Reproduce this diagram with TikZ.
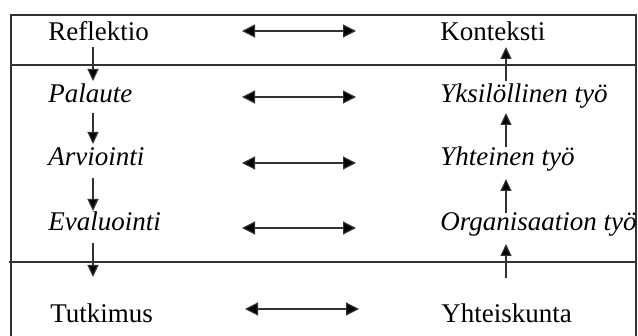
\documentclass[tikz,border=0pt]{standalone}
\usepackage{fontspec}
\setmainfont{Liberation Serif}
\usetikzlibrary{arrows.meta}
\begin{document}
\begin{tikzpicture}[x=0.5pt,y=-0.5pt,
  label/.style={anchor=base west,inner sep=0pt,font=\fontsize{13.5}{16}\selectfont},
  frameline/.style={draw=black!80,line width=0.75pt},
  harrow/.style={draw=black!80,line width=0.6pt,{Triangle[length=6.5pt,width=6.5pt,fill=black]}-{Triangle[length=6.5pt,width=6.5pt,fill=black]}},
  varrow/.style={draw=black!80,line width=0.6pt,-{Triangle[length=6pt,width=5.5pt,fill=black]}}]
\useasboundingbox (0,0) rectangle (638,336);

% frame: open at the bottom
\draw[frameline] (11,336) -- (11,15) -- (636,15) -- (636,336);
\draw[frameline] (10,65) -- (636,65);
\draw[frameline] (9,262) -- (636,262);

% left column
\node[label] (refl) at (48,41) {Reflektio};
\node[label] (pal) at (48,103) {\itshape Palaute};
\node[label] (arv) at (48,166) {\itshape Arviointi};
\node[label] (eva) at (48,231) {\itshape Evaluointi};
\node[label] (tut) at (50,323) {Tutkimus};

% right column
\node[label] (kon) at (440,41) {Konteksti};
\node[label] (yks) at (440,103) {\itshape Yksilöllinen työ};
\node[label] (yht) at (440,166) {\itshape Yhteinen työ};
\begin{scope}
  \clip (0,0) rectangle (635,336);
  \node[label] (org) at (440,231) {\itshape Organisaation työ};
\end{scope}
\node[label] (yks2) at (441,323) {Yhteiskunta};

% horizontal double arrows
\coordinate (h1a) at (242,31);  \coordinate (h1b) at (356,31);
\coordinate (h2a) at (242,97);  \coordinate (h2b) at (356,97);
\coordinate (h3a) at (242,163); \coordinate (h3b) at (356,163);
\coordinate (h4a) at (242,228); \coordinate (h4b) at (356,228);
\coordinate (h5a) at (245,309); \coordinate (h5b) at (359,309);
\foreach \i in {1,...,5} \draw[harrow] (h\i a) -- (h\i b);

% downward chain on the left
\coordinate (d1a) at (93,47);  \coordinate (d1b) at (93,81);
\coordinate (d2a) at (93,113); \coordinate (d2b) at (93,144);
\coordinate (d3a) at (93,178); \coordinate (d3b) at (93,211);
\coordinate (d4a) at (93,243); \coordinate (d4b) at (93,277);
\foreach \i in {1,...,4} \draw[varrow] (d\i a) -- (d\i b);

% upward chain on the right
\coordinate (u1a) at (506,81);  \coordinate (u1b) at (506,47);
\coordinate (u2a) at (506,147); \coordinate (u2b) at (506,113);
\coordinate (u3a) at (506,213); \coordinate (u3b) at (506,179);
\coordinate (u4a) at (506,278); \coordinate (u4b) at (506,244);
\foreach \i in {1,...,4} \draw[varrow] (u\i a) -- (u\i b);
\end{tikzpicture}
\end{document}
